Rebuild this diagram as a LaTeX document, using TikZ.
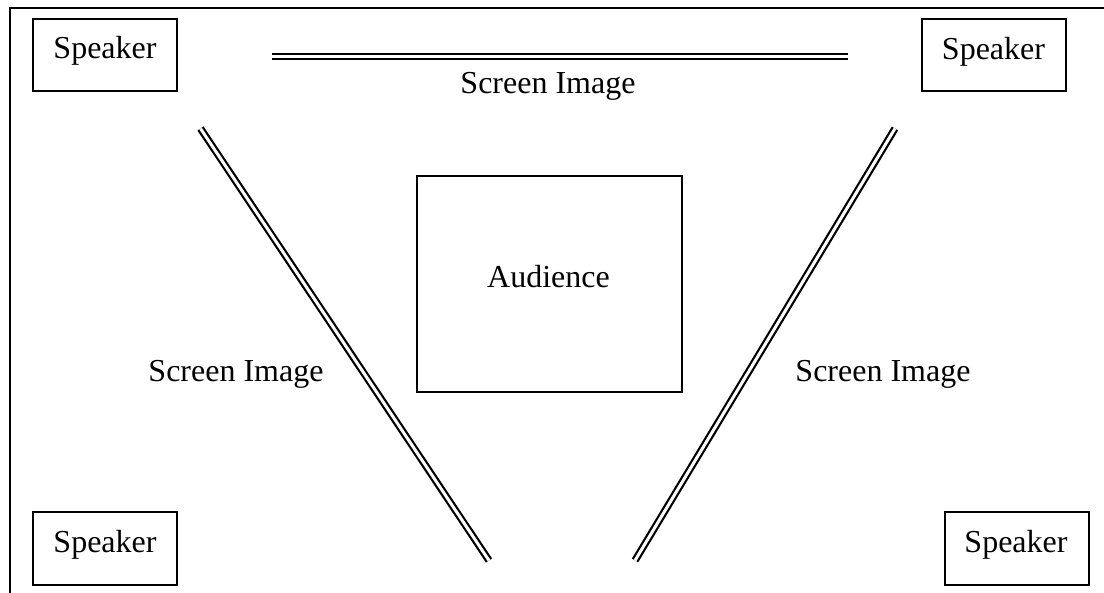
\documentclass[tikz,border=0pt]{standalone}
\usepackage{fontspec}
\setmainfont{Liberation Serif}
\usetikzlibrary{calc}
\begin{document}
\begin{tikzpicture}[x=1pt, y=-1pt,
  every node/.style={font=\fontsize{32}{38}\selectfont, inner sep=0pt},
  spkbox/.style={draw, line width=2pt, minimum width=144pt, minimum height=72pt},
  audbox/.style={draw, line width=2pt, minimum width=265pt, minimum height=216pt},
  screen/.style={draw, line width=2.2pt, double, double distance=3pt},
  caption/.style={anchor=base},
  frameline/.style={line width=2.2pt}]
  \useasboundingbox (0,0) rectangle (1104,593);

  % room frame (top and left walls)
  \draw[frameline] (10,593) -- (10,8) -- (1104,8);

  % speakers in the four corners
  \node[spkbox] (spkTL) at (105,55) {};
  \node[spkbox] (spkTR) at (993.5,55.5) {};
  \node[spkbox] (spkBL) at (105,548.5) {};
  \node[spkbox] (spkBR) at (1017,548.5) {};
  \node[caption] (tTL) at ($(spkTL.center)+(0,3.5)$) {Speaker};
  \node[caption] (tTR) at ($(spkTR.center)+(0,4)$) {Speaker};
  \node[caption] (tBL) at ($(spkBL.center)+(0,4.5)$) {Speaker};
  \node[caption] (tBR) at ($(spkBR.center)+(-1,4.5)$) {Speaker};

  % audience area
  \node[audbox] (aud) at (549.5,284) {};
  \node[caption] (taud) at ($(aud.center)+(-1,4)$) {Audience};

  % three screens
  \coordinate (topA) at (272,56.5);
  \coordinate (topB) at (848,56.5);
  \coordinate (leftA) at (200.5,128.5);
  \coordinate (leftB) at (489,560.5);
  \coordinate (rightA) at (895,128.5);
  \coordinate (rightB) at (635,560.5);
  \draw[screen] (topA) -- (topB);
  \draw[screen] (leftA) -- (leftB);
  \draw[screen] (rightA) -- (rightB);

  % screen labels
  \node[caption] (lTop) at (548,94) {Screen Image};
  \node[caption] (lLeft) at (236,382) {Screen Image};
  \node[caption] (lRight) at (883,382) {Screen Image};
\end{tikzpicture}
\end{document}
